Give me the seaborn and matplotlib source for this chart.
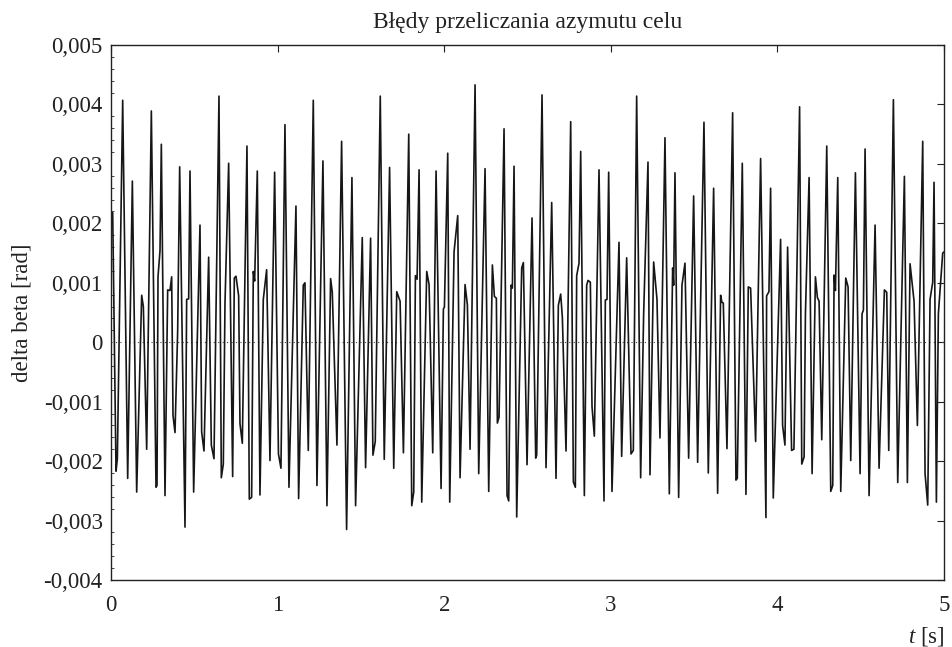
import numpy as np
import pandas as pd
import matplotlib
matplotlib.use("Agg")
import matplotlib.pyplot as plt
from matplotlib.ticker import FuncFormatter, MultipleLocator
import seaborn as sns

# Azimuth recomputation error, vertices of the recorded trace
t_s = [
    0.000, 0.010, 0.030, 0.038, 0.070, 0.100, 0.128, 0.154, 0.184, 0.194,
    0.214, 0.242, 0.270, 0.276, 0.282, 0.294, 0.302, 0.324, 0.340, 0.354,
    0.364, 0.372, 0.384, 0.400, 0.412, 0.444, 0.454, 0.466, 0.474, 0.496,
    0.534, 0.544, 0.558, 0.586, 0.602, 0.618, 0.648, 0.662, 0.674, 0.684,
    0.706, 0.730, 0.740, 0.750, 0.766, 0.774, 0.788, 0.816, 0.830,
    0.844, 0.854, 0.862, 0.878, 0.894, 0.914, 0.934, 0.954, 0.982, 1.005,
    1.020, 1.044, 1.068, 1.110, 1.126, 1.154, 1.164, 1.184, 1.214, 1.236,
    1.272, 1.296, 1.318, 1.328, 1.356, 1.384, 1.414, 1.446, 1.468, 1.508,
    1.528, 1.558, 1.572, 1.586, 1.616,
    1.640, 1.672, 1.697, 1.715, 1.735, 1.755, 1.787, 1.805, 1.817, 1.827,
    1.837, 1.849, 1.865, 1.895, 1.909, 1.931, 1.951, 1.981, 1.995, 2.001,
    2.021, 2.033, 2.059, 2.081, 2.095, 2.125, 2.139, 2.155, 2.185, 2.207,
    2.245, 2.267, 2.289, 2.301, 2.313, 2.319, 2.329, 2.359, 2.377, 2.387,
    2.401, 2.409, 2.419, 2.435, 2.465, 2.475, 2.497,
    2.527, 2.549, 2.555, 2.587, 2.611, 2.645, 2.671, 2.685, 2.699, 2.709,
    2.731, 2.759, 2.775, 2.787, 2.795, 2.809, 2.819, 2.841, 2.855, 2.863,
    2.877, 2.887, 2.901, 2.929, 2.959, 2.967, 2.977, 2.987, 3.007, 3.049,
    3.065, 3.095, 3.121, 3.135, 3.155, 3.179, 3.197, 3.223, 3.235, 3.257,
    3.277, 3.295, 3.325,
    3.351, 3.371, 3.377, 3.385, 3.407, 3.427, 3.445, 3.467, 3.497, 3.521,
    3.559, 3.585, 3.617, 3.641, 3.659, 3.667, 3.675, 3.697, 3.731, 3.751,
    3.759, 3.789, 3.811, 3.825, 3.839, 3.869, 3.899, 3.931, 3.935, 3.949,
    3.959, 3.975, 4.019, 4.031, 4.045, 4.061, 4.085, 4.099, 4.133,
    4.146, 4.160, 4.168, 4.190, 4.208, 4.228, 4.240, 4.250, 4.266, 4.296,
    4.320, 4.332, 4.340, 4.348, 4.362, 4.380, 4.410, 4.424, 4.440, 4.468,
    4.496, 4.508, 4.516, 4.526, 4.550, 4.586, 4.610, 4.642, 4.656, 4.668,
    4.696, 4.722, 4.762, 4.780, 4.796, 4.820, 4.840, 4.872, 4.886, 4.902,
    4.916, 4.932, 4.940, 4.954, 4.966, 4.992, 5.000,
]

# delta beta in milliradians
delta_beta_mrad = [
    2.13, 2.18, -2.17, -1.96, 4.07, -2.29, 2.71, -2.52, 0.79, 0.60,
    -1.80, 3.89, -2.44, -2.41, 1.10, 1.54, 3.33, -2.58, 0.88, 0.87,
    1.10, -1.23, -1.52, 0.19, 2.95, -3.11, 0.72, 0.73, 2.88, -2.52,
    1.97, -1.51, -1.83, 1.43, -1.73, -1.96, 4.14, -2.28, -2.05, 0.65,
    3.01, -2.26, 1.08, 1.11, 0.78, -1.37, -1.70, 3.30, -2.64,
    -2.61, 1.19, 1.03, 2.88, -2.57, 0.72, 1.22, -1.99, 2.86, -1.88,
    -2.12, 3.66, -2.44, 2.29, -2.63, 0.96, 1.00, -1.82, 4.07, -2.41,
    3.05, -2.75, 1.07, 0.84, -1.73, 3.38, -3.15, 2.77, -2.75, 1.76,
    -2.11, 1.75, -1.90, -1.67, 4.14,
    -1.97, 2.94, -2.12, 0.85, 0.69, -1.86, 3.50, -2.75, -2.52, 1.12,
    1.06, 2.90, -2.69, 1.19, 0.97, -1.86, 2.88, -2.46, 0.56, 0.59,
    3.18, -2.69, 1.52, 2.13, -2.28, 0.97, 0.63, -1.80, 4.33, -2.21,
    2.92, -2.51, 1.30, 0.77, 0.74, -1.36, -1.26, 3.59, -2.58, -2.67,
    0.96, 0.91, 2.96, -2.94, 1.25, 1.34, -2.06,
    2.09, -1.95, -1.90, 4.16, -2.11, 2.35, -2.29, 0.62, 0.81, 0.42,
    -1.83, 3.71, -2.35, -2.44, 1.12, 1.33, 3.21, -2.58, 0.96, 1.04,
    1.01, -1.08, -1.58, 2.90, -2.67, 0.71, 0.72, 2.86, -2.51, 1.68,
    -1.92, 1.42, -1.88, -1.82, 4.14, -2.28, 0.48, 3.03, -2.23, 1.35,
    0.72, -1.61, 3.44,
    -2.55, 1.25, 0.96, 2.85, -2.61, 0.96, 1.33, -1.95, 2.46, -2.02,
    3.70, -2.20, 2.59, -2.54, 0.79, 0.67, 0.66, -1.79, 3.86, -2.32,
    -2.29, 3.01, -2.56, 0.93, 0.91, -1.67, 3.09, -2.95, 0.78, 0.85,
    2.59, -2.62, 1.73, -1.40, -1.73, 1.60, -1.82, -1.80, 3.96,
    -2.05, -1.93, 0.48, 2.77, -2.21, 1.10, 0.75, 0.69, -1.64, 3.30,
    -2.51, -2.41, 1.13, 0.87, 2.77, -2.51, 1.08, 0.93, -1.99, 2.85,
    -2.21, 0.48, 0.54, 3.25, -2.58, 1.97, -2.12, 0.88, 0.84, -1.82,
    4.08, -2.36, 2.79, -2.36, 1.32, 0.69, -1.40, 3.38, -2.21, -2.74,
    0.72, 1.01, 2.69, -2.69, 0.48, 1.50, 1.52,
]

x_ticks = [0, 1, 2, 3, 4, 5]
y_ticks = [-0.004, -0.003, -0.002, -0.001, 0.0, 0.001, 0.002, 0.003, 0.004, 0.005]

df = pd.DataFrame({
    "t": t_s,
    "delta_beta": np.asarray(delta_beta_mrad) * 1e-3,
})

sns.set_theme(style="white")
plt.rcParams["font.family"] = ["Liberation Serif", "DejaVu Serif"]
plt.rcParams["mathtext.fontset"] = "custom"
plt.rcParams["mathtext.it"] = "Liberation Serif:italic"
plt.rcParams["mathtext.rm"] = "Liberation Serif"

fig = plt.figure(figsize=(9.53, 6.47), dpi=100)
ax = fig.add_axes([0.1165, 0.1036, 0.8741, 0.8268])

sns.lineplot(data=df, x="t", y="delta_beta", ax=ax, estimator=None, sort=False,
             color="#161616", linewidth=1.2)
ax.axhline(0.0, color="#444444", linestyle=(0, (1, 3)), linewidth=0.8, zorder=1)

ax.set_xlim(0, 5)
ax.set_ylim(-0.004, 0.005)
ax.set_xticks(x_ticks)
ax.set_yticks(y_ticks)
ax.yaxis.set_minor_locator(MultipleLocator(0.0002))


def comma_fmt(v, pos):
    if abs(v) < 1e-12:
        return "0"
    return f"{v:.3f}".replace(".", ",")


ax.yaxis.set_major_formatter(FuncFormatter(comma_fmt))
ax.xaxis.set_major_formatter(FuncFormatter(lambda v, p: f"{v:.0f}"))

ax.tick_params(axis="both", which="major", direction="in", length=5, width=0.8,
               top=True, right=True, labelsize=16.5, colors="#222222")
ax.tick_params(axis="y", which="major", pad=6)
ax.tick_params(axis="x", which="major", pad=11)
ax.tick_params(axis="y", which="minor", direction="in", length=2.5, width=0.6,
               left=True, right=False)
for sp in ax.spines.values():
    sp.set_linewidth(1.0)
    sp.set_color("#222222")

ax.set_title("Błędy przeliczania azymutu celu", fontsize=17, pad=12, color="#222222")
ax.set_ylabel("delta beta [rad]", fontsize=16.5, labelpad=8, color="#222222")
ax.set_xlabel(r"$t$ [s]", fontsize=16.5, loc="right", labelpad=6, color="#222222")

fig.savefig("out.png", dpi=100, facecolor="white")
